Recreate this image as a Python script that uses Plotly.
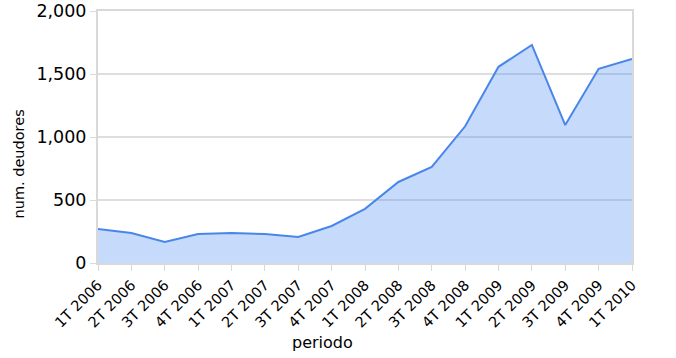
import plotly.graph_objects as go

periodos = ["1T 2006", "2T 2006", "3T 2006", "4T 2006",
            "1T 2007", "2T 2007", "3T 2007", "4T 2007",
            "1T 2008", "2T 2008", "3T 2008", "4T 2008",
            "1T 2009", "2T 2009", "3T 2009", "4T 2009",
            "1T 2010"]
deudores = [270, 238, 167, 230, 238, 230, 206, 294,
            430, 643, 762, 1085, 1557, 1731, 1095, 1541, 1620]

FONT = "DejaVu Sans"

fig = go.Figure()
fig.add_trace(go.Scatter(
    x=periodos, y=deudores, mode="lines", fill="tozeroy",
    line=dict(color="#4a86e8", width=2),
    fillcolor="rgba(66,133,244,0.3)",
    hoverinfo="x+y", showlegend=False,
))

fig.update_layout(
    width=676, height=358,
    margin=dict(l=98, r=44, t=11, b=95),
    paper_bgcolor="white", plot_bgcolor="white",
    font=dict(family=FONT, color="#000000", size=15),
    xaxis=dict(
        type="category", range=[0, len(periodos) - 1], automargin=False,
        tickangle=-45, tickfont=dict(size=14.5),
        showgrid=False, showline=True, linecolor="#d9d9d9", linewidth=2,
        mirror=True, ticks="outside", ticklen=6, tickcolor="#d9d9d9",
    ),
    yaxis=dict(
        range=[0, 2000], dtick=500, tickformat=",d", automargin=False,
        tickfont=dict(size=17.5),
        showgrid=True, gridcolor="#dedede", gridwidth=2,
        showline=True, linecolor="#d9d9d9", linewidth=2, mirror=True,
        ticks="outside", ticklen=6, tickcolor="#d9d9d9",
        zeroline=False,
    ),
    annotations=[
        dict(text="periodo", xref="paper", yref="paper",
             x=(322 - 98) / 534, y=-(342 - 263) / 252,
             xanchor="center", yanchor="middle", showarrow=False,
             font=dict(size=16)),
        dict(text="num. deudores", xref="paper", yref="paper",
             x=-(98 - 18.5) / 534, y=(263 - 164) / 252,
             xanchor="center", yanchor="middle", showarrow=False,
             textangle=-90, font=dict(size=14.5)),
    ],
)

fig.write_html("out.html")
